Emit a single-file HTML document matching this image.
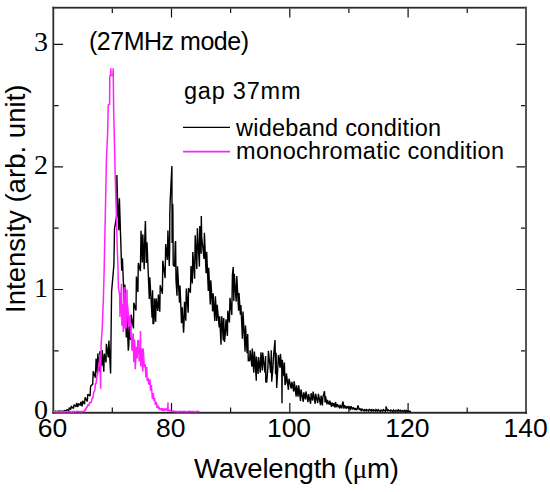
<!DOCTYPE html>
<html><head><meta charset="utf-8"><style>
html,body{margin:0;padding:0;background:#fff;}
svg{display:block;}
text{font-family:"Liberation Sans", sans-serif;fill:#000;}
.sf{font-family:"Liberation Serif", serif;}
</style></head><body>
<svg width="550" height="492" viewBox="0 0 550 492">
<rect x="0" y="0" width="550" height="492" fill="#fff"/>
<rect x="52.4" y="6.8" width="1.8" height="407" fill="#2e2e2e"/>
<rect x="52.4" y="6.8" width="474.6" height="1.8" fill="#2a2a2a"/>
<rect x="525" y="6.8" width="2" height="407" fill="#555"/>
<rect x="52.4" y="411.8" width="474.6" height="1.9" fill="#262626"/>
<path d="M112.3,412.0 v-4.5 M112.3,8.5 v4.5 M171.5,412.0 v-9 M171.5,8.5 v9 M230.6,412.0 v-4.5 M230.6,8.5 v4.5 M289.8,412.0 v-9 M289.8,8.5 v9 M348.9,412.0 v-4.5 M348.9,8.5 v4.5 M408.1,412.0 v-9 M408.1,8.5 v9 M467.2,412.0 v-4.5 M467.2,8.5 v4.5 M54.1,350.8 h4.5 M525.0,350.8 h-4.0 M54.1,289.5 h9 M525.0,289.5 h-8.5 M54.1,228.2 h4.5 M525.0,228.2 h-4.0 M54.1,166.9 h9 M525.0,166.9 h-8.5 M54.1,105.6 h4.5 M525.0,105.6 h-4.0 M54.1,44.3 h9 M525.0,44.3 h-8.5" fill="none" stroke="#111" stroke-width="1.2"/>
<path d="M53.0,411.8 53.4,411.3 55.3,411.8 55.7,411.2 57.6,411.8 58.2,411.1 59.5,411.5 59.9,411.1 62.0,411.5 62.5,411.0 64.0,411.7 64.6,410.6 66.4,410.8 67.0,409.6 68.8,410.4 69.3,407.7 70.7,409.5 71.3,406.5 73.5,408.4 74.0,404.6 76.0,406.9 76.6,403.0 77.9,407.0 78.5,403.4 80.4,405.5 80.8,401.8 82.1,406.3 82.7,400.8 84.5,404.3 85.1,397.4 87.3,401.4 87.8,394.2 90.1,395.9 90.6,386.2 92.7,384.1 93.2,371.3 95.4,377.7 96.1,358.5 97.4,373.3 97.8,353.4 99.3,371.4 99.9,351.2 101.7,365.7 102.2,350.1 103.8,371.8 104.3,353.7 106.0,362.4 106.4,343.8 108.3,357.5 108.9,340.5 110.6,373.5 111.1,330.5 111.6,291.9 113.9,264.6 114.5,228.9 116.8,215.1 116.9,175.0 117.4,195.5 118.8,230.3 119.4,198.2 121.7,270.7 122.4,258.4 124.2,302.2 124.8,284.5 126.3,337.6 126.9,314.8 128.3,350.7 128.8,345.1 129.2,324.1 130.5,340.0 131.1,314.6 133.5,328.4 133.8,302.7 136.0,310.5 136.4,276.5 137.9,292.1 138.3,262.9 140.4,271.2 141.0,230.8 142.3,262.5 142.8,234.4 144.2,269.2 144.7,240.2 145.4,221.0 146.3,262.9 147.0,242.3 149.3,299.0 149.8,277.2 152.1,317.8 152.6,290.3 153.0,324.0 153.9,323.0 154.4,298.6 155.7,321.8 156.1,298.3 157.8,310.9 158.4,294.5 159.8,311.7 160.2,285.3 162.4,293.7 162.8,260.7 165.1,278.1 165.7,244.1 167.4,260.0 167.9,230.5 169.3,266.0 169.7,247.1 169.8,214.0 170.2,200.2 171.9,166.0 172.1,243.1 172.7,203.7 172.9,212.0 173.2,265.0 174.6,266.6 175.2,243.3 175.6,241.0 176.0,280.0 177.0,295.8 177.5,266.2 179.5,302.8 180.0,285.5 181.5,323.2 182.2,307.4 183.6,332.7 184.0,323.7 184.5,301.7 185.8,320.8 186.3,288.5 188.2,312.7 188.5,287.9 190.4,292.7 191.0,266.0 192.3,283.4 192.8,252.0 194.6,278.7 195.2,235.2 196.8,269.0 197.4,228.2 199.4,266.6 199.8,226.0 201.1,253.8 201.3,216.0 201.7,236.8 204.0,258.9 204.4,232.7 206.1,273.2 206.7,251.9 208.3,291.0 208.7,267.8 210.3,304.4 210.8,280.2 212.7,311.4 213.1,293.3 214.8,321.0 215.4,296.2 216.7,320.9 217.2,304.8 219.2,327.4 219.7,316.2 221.0,344.8 221.2,332.0 221.8,316.4 223.3,340.5 223.7,318.0 224.5,342.0 225.4,332.6 226.0,319.4 227.4,335.9 227.8,310.7 229.4,322.5 230.0,297.7 231.8,315.0 232.4,275.4 233.2,267.0 233.8,300.9 234.3,273.7 236.2,301.6 236.8,276.0 238.6,310.7 239.0,293.1 240.4,314.7 240.9,305.0 242.4,338.7 243.0,311.5 245.1,351.6 245.5,325.6 247.1,353.3 247.7,334.0 248.3,360.7 249.6,360.6 250.2,350.2 251.9,366.7 252.3,348.6 253.8,372.6 254.4,351.5 256.0,375.8 256.3,380.8 256.4,356.5 258.1,373.9 258.6,357.0 260.3,372.7 260.9,352.2 262.4,370.5 262.7,352.6 265.0,372.7 265.6,356.1 265.8,381.7 266.7,382.5 267.9,367.4 268.4,350.7 270.7,372.9 271.3,350.3 271.7,381.7 272.8,369.5 273.4,358.1 275.0,340.0 275.6,374.2 276.1,352.7 276.7,388.0 277.9,365.7 278.4,355.0 280.0,367.7 280.4,353.9 281.8,369.9 282.0,403.3 282.3,359.8 283.9,376.2 284.4,362.5 285.0,385.0 285.8,382.9 286.4,373.4 288.4,389.8 289.0,378.7 291.2,388.6 291.9,381.9 293.7,391.5 294.1,381.2 296.2,396.6 296.6,385.3 298.1,396.7 298.7,385.4 300.5,400.9 301.0,389.5 303.3,401.8 303.8,392.4 305.4,399.4 305.9,391.5 308.0,402.1 308.5,394.0 310.6,403.8 311.1,393.2 312.6,400.5 313.1,391.5 315.2,403.8 315.6,393.7 317.7,403.0 318.4,393.9 320.5,405.2 321.1,395.5 322.4,405.4 322.9,397.3 324.5,391.3 325.1,402.4 325.5,396.0 327.0,404.4 327.4,399.9 329.3,404.7 329.8,400.6 331.5,406.7 332.1,402.5 333.4,406.4 333.7,403.1 335.1,407.5 335.5,402.1 336.9,407.2 337.5,404.2 339.7,408.4 340.1,404.9 341.9,408.3 342.3,404.4 343.0,401.5 343.9,408.6 344.4,405.2 346.3,408.6 346.8,406.1 348.5,408.6 348.9,406.1 350.5,410.1 350.9,406.2 352.8,409.4 353.3,407.5 355.0,409.7 355.4,408.3 356.8,410.0 357.3,408.2 358.0,405.5 359.2,409.9 359.8,408.4 361.5,411.0 362.0,409.1 364.0,410.9 364.5,409.1 366.1,410.9 366.6,409.6 368.6,411.0 369.1,409.1 371.1,411.1 371.6,409.3 373.1,410.9 373.6,409.8 375.7,411.2 376.0,409.6 377.7,411.0 378.2,409.6 380.4,411.5 381.1,410.0 382.7,411.1 383.3,409.7 385.5,411.3 385.9,409.9 386.0,406.4 387.7,411.3 388.0,409.8 390.2,411.0 390.7,410.1 392.9,411.6 393.5,410.0 395.5,411.7 396.1,410.2 398.0,411.3 398.3,409.8 400.2,411.3 400.6,410.3 402.0,411.3 402.6,410.6 403.9,411.3 404.3,410.4 405.6,411.8 406.2,410.4 407.7,411.5 408.1,410.9 410.2,411.6 410.6,410.8" fill="none" stroke="#000" stroke-width="1.4" stroke-linejoin="miter" stroke-miterlimit="2"/>
<path d="M53.1,412.0 53.9,411.6 54.7,412.0 55.6,411.6 56.3,411.9 57.2,411.6 57.6,411.8 58.6,411.6 59.6,411.8 60.3,411.6 61.2,411.9 61.6,411.7 62.6,411.9 63.3,411.6 64.2,411.9 65.0,411.6 65.6,411.8 66.5,411.8 67.3,411.6 68.4,411.8 69.1,411.6 69.6,411.9 70.7,411.5 71.2,411.9 72.3,411.9 72.8,411.4 73.6,411.8 74.8,411.5 75.3,411.9 76.1,411.8 77.2,411.4 78.0,411.7 78.5,411.4 79.6,411.8 80.2,411.8 81.1,411.5 81.7,411.9 82.8,411.3 83.5,411.4 84.4,411.4 85.2,409.4 85.7,409.8 86.5,407.2 87.2,407.1 88.0,404.6 88.8,405.7 89.7,402.5 90.6,402.4 91.2,402.3 92.3,397.6 92.9,398.3 93.7,392.3 94.8,390.5 95.4,383.9 96.1,383.2 97.0,375.4 97.9,372.5 98.4,367.6 99.6,359.7 100.0,354.3 100.6,388.8 101.1,344.4 102.0,332.4 102.4,324.5 103.5,294.9 104.1,272.4 105.0,228.7 105.6,201.7 106.4,160.0 107.2,142.9 107.6,134.0 108.1,110.0 108.3,104.8 109.6,104.5 109.8,76.0 110.6,75.6 110.8,68.2 111.0,75.6 112.9,75.6 113.2,68.2 113.3,80.0 113.5,95.0 113.7,112.0 114.7,153.6 115.2,177.1 116.3,210.6 117.1,243.4 118.0,268.2 118.4,287.9 119.6,294.1 120.0,317.0 120.9,295.6 121.5,284.0 121.9,325.7 122.8,303.6 123.3,332.0 124.2,287.0 124.4,328.5 125.0,292.6 125.7,327.6 126.5,328.1 127.0,289.4 127.2,303.6 128.0,308.5 128.8,326.7 129.9,315.4 130.8,337.7 131.2,332.6 132.0,350.6 133.2,333.3 133.8,362.3 134.6,339.4 135.3,369.2 136.2,346.7 137.2,358.5 137.8,340.7 138.6,340.8 139.2,361.4 140.4,346.7 140.5,331.0 140.8,366.5 141.8,348.3 142.8,371.6 143.2,348.6 144.3,367.3 145.2,364.0 145.9,377.5 146.7,366.9 147.2,381.0 148.2,378.1 148.8,384.6 150.0,379.5 150.5,390.7 151.4,385.1 152.4,398.9 153.2,393.2 154.0,401.0 154.6,397.8 155.4,404.8 156.3,401.8 157.0,408.0 157.7,405.2 158.6,409.2 159.2,406.9 160.1,409.4 161.2,408.8 162.0,410.8 162.7,408.2 163.4,410.3 164.1,410.5 164.8,408.5 165.7,409.9 166.7,408.9 167.6,411.1 168.0,402.4 168.1,409.7 169.1,410.9 169.9,410.3 170.7,411.0 171.5,411.3 172.3,411.5 172.9,410.8 173.9,411.2 174.5,411.6 175.4,411.3 176.3,411.6 177.1,411.4 177.7,411.7 178.8,411.7 179.5,411.3 180.2,411.7 180.8,411.4 181.8,411.7 182.5,411.7 183.5,411.3 184.2,411.6 185.2,411.4 185.9,411.7 186.7,411.7 187.3,411.5 188.3,411.8 189.1,411.3 190.0,411.7 190.5,411.4 191.6,411.7 192.4,411.5 193.1,411.6 194.0,411.7 194.8,411.5 195.4,411.7 196.2,411.5 196.8,411.8 198.0,411.4 198.8,411.6 199.4,411.5" fill="none" stroke="#ff22ff" stroke-width="1.5" stroke-linejoin="miter" stroke-miterlimit="2"/>
<text x="52.4" y="436.6" text-anchor="middle" font-size="26.5">60</text><text x="170.7" y="436.6" text-anchor="middle" font-size="26.5">80</text><text x="289.0" y="436.6" text-anchor="middle" font-size="26.5">100</text><text x="407.3" y="436.6" text-anchor="middle" font-size="26.5">120</text><text x="525.6" y="436.6" text-anchor="middle" font-size="26.5">140</text>
<text x="48" y="419.1" text-anchor="end" class="sf" font-size="28">0</text><text x="48" y="296.5" text-anchor="end" class="sf" font-size="28">1</text><text x="48" y="173.9" text-anchor="end" class="sf" font-size="28">2</text><text x="48" y="51.3" text-anchor="end" class="sf" font-size="28">3</text>
<text x="89" y="50.4" font-size="25" textLength="160" lengthAdjust="spacing">(27MHz mode)</text>
<text x="184" y="99.2" font-size="23.5" textLength="116.5" lengthAdjust="spacing">gap 37mm</text>
<path d="M183,127.4 H230" stroke="#000" stroke-width="1.3"/>
<path d="M183,151.6 H230" stroke="#ff22ff" stroke-width="1.6"/>
<text x="236" y="135.5" font-size="23.5" textLength="205" lengthAdjust="spacing">wideband condition</text>
<text x="236" y="159.4" font-size="23.5" textLength="268" lengthAdjust="spacing">monochromatic condition</text>
<text x="194" y="478" font-size="27.5" textLength="205" lengthAdjust="spacing">Wavelength (<tspan class="sf">μ</tspan>m)</text>
<text transform="translate(25.2,313) rotate(-90)" x="0" y="0" font-size="27.5" textLength="228.5" lengthAdjust="spacing">Intensity (arb. unit)</text>
</svg>
</body></html>
